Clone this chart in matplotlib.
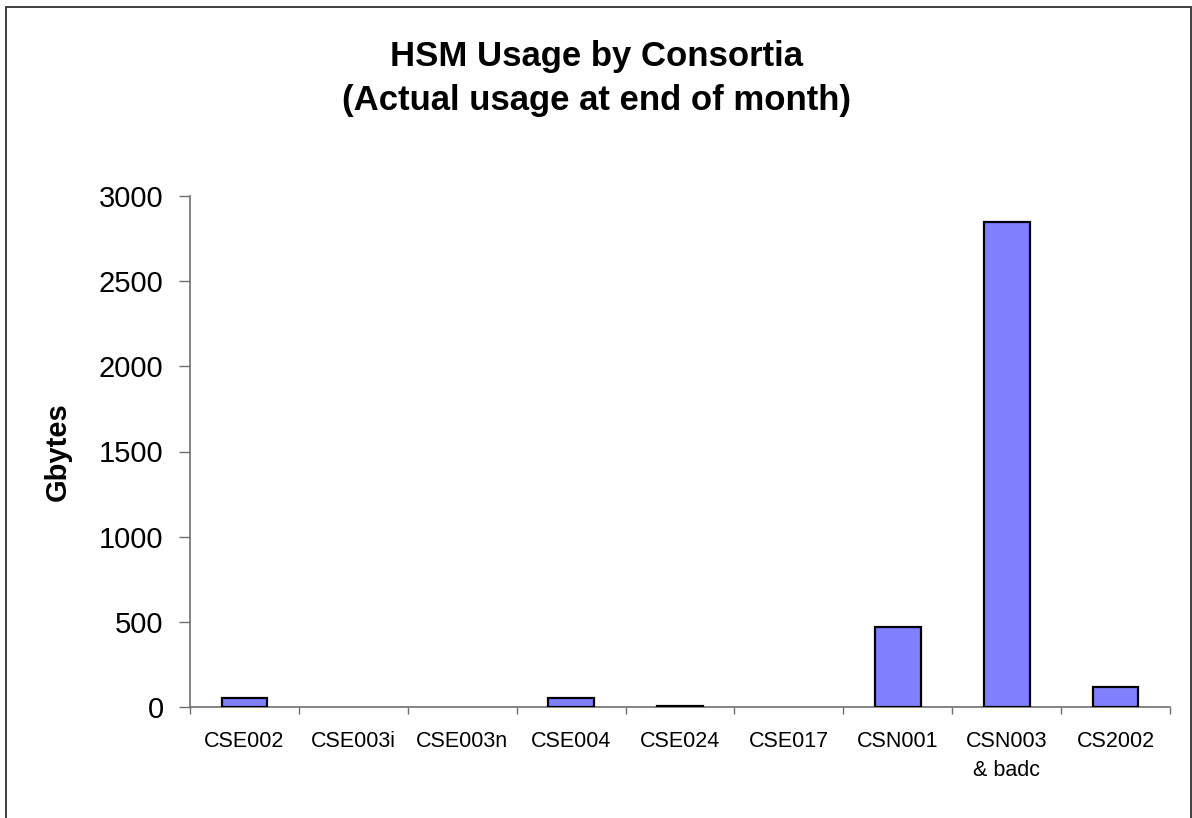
import matplotlib
matplotlib.use("Agg")
import matplotlib.pyplot as plt
from matplotlib.patches import Rectangle
import numpy as np

plt.rcParams['font.family'] = ['Liberation Sans', 'DejaVu Sans']

categories = ["CSE002", "CSE003i", "CSE003n", "CSE004", "CSE024",
              "CSE017", "CSN001", "CSN003\n& badc", "CS2002"]
usage_gb = [50, 0, 0, 50, 8, 0, 470, 2850, 115]
yticks = [0, 500, 1000, 1500, 2000, 2500, 3000]

W, H, DPI = 1192, 818, 100
fig = plt.figure(figsize=(W / DPI, H / DPI), dpi=DPI)
fig.patch.set_facecolor("white")

# outer chart frame (open at the bottom edge of the image)
fig.patches.append(Rectangle((6 / W, -0.05), (1191 - 6) / W, 1 - 7 / H + 0.05,
                             transform=fig.transFigure, fill=False,
                             edgecolor="#303030", linewidth=1.3))

ax = fig.add_axes([190 / W, 1 - 707 / H, (1170 - 190) / W, (707 - 196) / H])
x = np.arange(len(categories))
# empty categories get no outline
edge_widths = [1.6 if v > 0 else 0 for v in usage_gb]
ax.bar(x, usage_gb, width=0.42, color="#8080FF", edgecolor="black",
       linewidth=edge_widths, zorder=3)

ax.set_xlim(-0.5, len(categories) - 0.5)
ax.set_ylim(0, 3000)
ax.set_yticks(yticks)
ax.set_yticklabels([str(v) for v in yticks], fontsize=21)
ax.set_xticks(x)
ax.set_xticklabels(categories, fontsize=15.5, linespacing=1.5)
ax.set_xticks(np.arange(len(categories) + 1) - 0.5, minor=True)
ax.tick_params(axis="x", which="major", length=0, pad=17)
ax.tick_params(axis="x", which="minor", length=5, width=1, color="#707070", direction="out")
ax.tick_params(axis="y", length=8, width=1, color="#707070", direction="out", pad=11)

for side in ("top", "right"):
    ax.spines[side].set_visible(False)
for side in ("left", "bottom"):
    ax.spines[side].set_color("#707070")
    ax.spines[side].set_linewidth(1.2)

ax.set_ylabel("Gbytes", fontsize=21, fontweight="bold")
ax.yaxis.set_label_coords((72 - 190) / (1170 - 190), 0.5)

fig.text(596 / W, 1 - 40 / H, "HSM Usage by Consortia\n(Actual usage at end of month)",
         ha="center", va="top", fontsize=25, fontweight="bold", linespacing=1.42)

fig.savefig("out.png", dpi=DPI, facecolor="white")
